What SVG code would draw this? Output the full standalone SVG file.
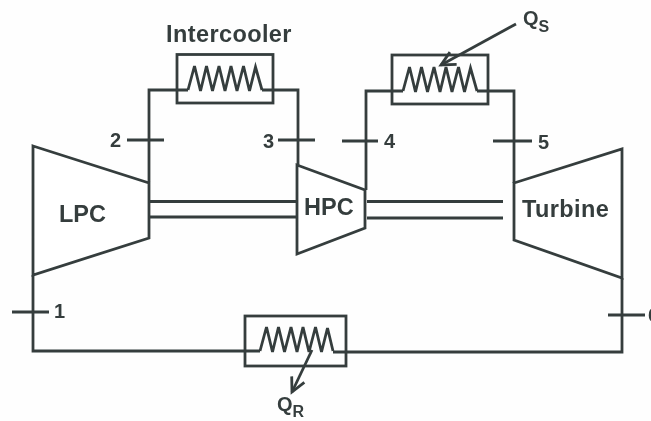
<svg xmlns="http://www.w3.org/2000/svg" width="651" height="421" viewBox="0 0 651 421">
<style>
.l{fill:none;stroke:#353e3e;stroke-width:2.8;stroke-linejoin:miter;stroke-linecap:butt}
.b{fill:#fff;stroke:#353e3e;stroke-width:2.8}
text{font-family:"Liberation Sans",Arial,sans-serif;font-weight:700;fill:#353e3e}
.t{font-size:23.500px}
.n{font-size:20px}
.s{font-size:16px}
</style>
<defs>
<filter id="soft" x="-5%" y="-5%" width="110%" height="110%"><feGaussianBlur stdDeviation="0.55"/></filter>
<marker id="open" markerUnits="userSpaceOnUse" markerWidth="24" markerHeight="24" refX="21" refY="12" orient="auto"><path d="M7 5 L21 12 L7 19" fill="none" stroke="#353e3e" stroke-width="2.800"/></marker>
</defs>
<rect width="651" height="421" fill="#fefefe"/>
<g filter="url(#soft)">
<g id="connectors">
<path class="l" d="M149 182V90H188"/>
<path class="l" d="M262 90H298V166"/>
<path class="l" d="M366 190V91H403"/>
<path class="l" d="M477 91H514V183"/>
<path class="l" d="M33 275V351H260"/>
<path class="l" d="M333 352H622V278"/>
<path class="l" d="M150 201.500H297M150 217H297"/>
<path class="l" d="M367 201.500H503M367 218H503"/>
<path class="l" d="M127 140H164M278 140H315M342 141H378M493 141H532M12 312H49M608 315H645"/>
<path class="l" d="M516 24L441 65" marker-end="url(#open)"/>
<path class="l" d="M312 350L292 392" marker-end="url(#open)"/>
</g>
<g id="lpc"><path class="b" d="M33 146L149 183V238L33 275Z"/><text class="t" x="59" y="222">LPC</text></g>
<g id="hpc"><path class="b" d="M297 165L365 190V228L297 254Z"/><text class="t" x="304" y="215">HPC</text></g>
<g id="turbine"><path class="b" d="M514 183L622 149V278L514 240Z"/><text class="t" x="522" y="217" style="letter-spacing:.4px">Turbine</text></g>
<g id="intercooler"><rect class="l" x="177" y="54.500" width="96" height="48.500"/><path class="l" d="M188 90L194.500 66L200.500 91L206.500 66L212.500 91L219 66L225 91L231 66L237 91L243.500 66L249.500 91L255.500 67L262 90"/><text class="t" x="166" y="41.500" style="letter-spacing:.4px">Intercooler</text></g>
<g id="heater"><rect class="l" x="392" y="55" width="96" height="49"/><path class="l" d="M403 91L409.500 67L415.500 92L421.500 67L427.500 92L434 67L440 92L446 67L452 92L458.500 67L464.500 92L470.500 68L477 91"/></g>
<g id="cooler"><rect class="l" x="245" y="316" width="101" height="50"/><path class="l" d="M260 351L266.500 327L272.500 352L278.500 327L284.500 352L291 327L297 352L303 327L309 352L315.500 327L321.500 352L327.500 328L333 351"/></g>
<g id="labels">
<text class="n" x="110" y="147">2</text>
<text class="n" x="263" y="148">3</text>
<text class="n" x="384" y="148">4</text>
<text class="n" x="538" y="149">5</text>
<text class="n" x="54" y="318">1</text>
<text class="n" x="648" y="322">6</text>
<text class="n" x="523" y="25">Q<tspan class="s" dy="7">S</tspan></text>
<text class="n" x="277" y="411">Q<tspan class="s" dy="6">R</tspan></text>
</g>
</g>
</svg>
